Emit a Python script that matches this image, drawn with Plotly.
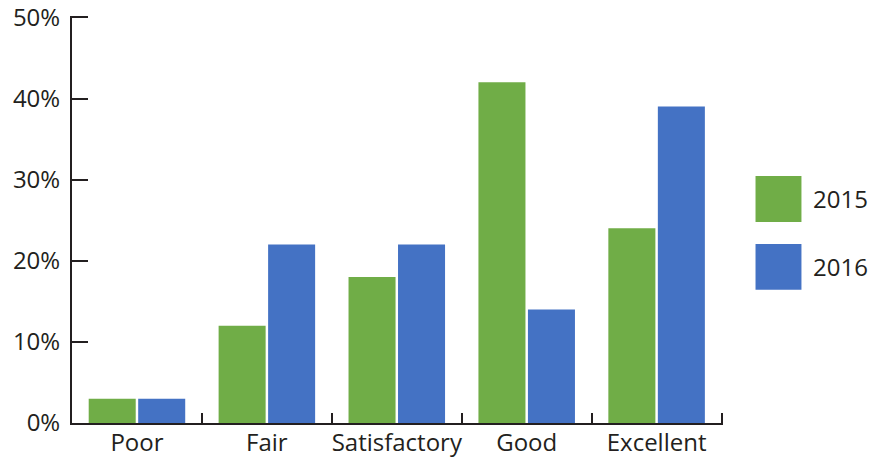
import plotly.graph_objects as go

categories = ["Poor", "Fair", "Satisfactory", "Good", "Excellent"]
series_names = ["2015", "2016"]
values_2015 = [3, 12, 18, 42, 24]
values_2016 = [3, 22, 22, 14, 39]
y_ticks = [0, 10, 20, 30, 40, 50]
y_tick_labels = ["0%", "10%", "20%", "30%", "40%", "50%"]

colors = ["#70AD47", "#4472C4"]
ink = "#231F20"
FONT = "Open Sans"
FS = 24

W, H = 873, 457
# pixel geometry of the reference: y=0 at 423.5, y=50 at 17; x from 71.5 to 722 (5 categories)
Y_MAX = 50.17
X_MAX = 4.511
y0_px, y50_px = 423.5, 17.0
upp = (y0_px - y50_px) / 50.0
x_left, x_right = 71.5, 722.0
cpx = (x_right - x_left) / 5.0
t = y50_px - (Y_MAX - 50) * upp
b = H - y0_px
l = x_left
r = W - (x_right + (X_MAX - 4.5) * cpx)
pw, ph = W - l - r, H - t - b

fig = go.Figure()
for name, vals, col in zip(series_names, [values_2015, values_2016], colors):
    fig.add_trace(go.Bar(x=categories, y=vals, name=name, marker=dict(color=col, line=dict(width=0)),
                         showlegend=False))

def px_x(x):  # page pixel -> paper
    return (x - l) / pw
def px_y(y):
    return (H - b - y) / ph

shapes = []
annotations = []
for i, (name, col) in enumerate(zip(series_names, colors)):
    top = 176 + i * 68
    shapes.append(dict(type="rect", xref="paper", yref="paper",
                       x0=px_x(756), x1=px_x(802), y0=px_y(top + 46), y1=px_y(top),
                       fillcolor=col, line=dict(width=0)))
    annotations.append(dict(xref="paper", yref="paper", x=px_x(812), y=px_y(top + 23),
                            text=name, showarrow=False, xanchor="left", yanchor="middle",
                            font=dict(family=FONT, size=FS, color=ink)))

fig.update_layout(
    width=W, height=H,
    margin=dict(l=l, r=r, t=t, b=b, pad=0),
    paper_bgcolor="white", plot_bgcolor="white",
    barmode="group", bargap=0.238, bargroupgap=0.05,
    font=dict(family=FONT, size=FS, color=ink),
    shapes=shapes, annotations=annotations,
)
fig.update_xaxes(
    range=[-0.5, X_MAX], showgrid=False, zeroline=False,
    showline=True, linecolor=ink, linewidth=2,
    ticks="inside", tickson="boundaries", ticklen=10, tickwidth=2, tickcolor=ink,
    tickangle=0, ticklabeloverflow="allow", ticklabelstandoff=-3,
    tickfont=dict(family=FONT, size=FS, color=ink), automargin=False,
)
fig.update_yaxes(
    range=[0, Y_MAX], tickvals=y_ticks, ticktext=y_tick_labels,
    showgrid=False, zeroline=False,
    showline=True, linecolor=ink, linewidth=2,
    ticks="inside", ticklen=16, tickwidth=2, tickcolor=ink,
    ticklabeloverflow="allow",
    tickfont=dict(family=FONT, size=FS, color=ink), automargin=False,
    ticklabelstandoff=5,
)

fig.write_html(
    "out.html",
    config={"displayModeBar": False},
    post_script="document.body.style.margin='0';document.body.style.overflow='hidden';",
)
